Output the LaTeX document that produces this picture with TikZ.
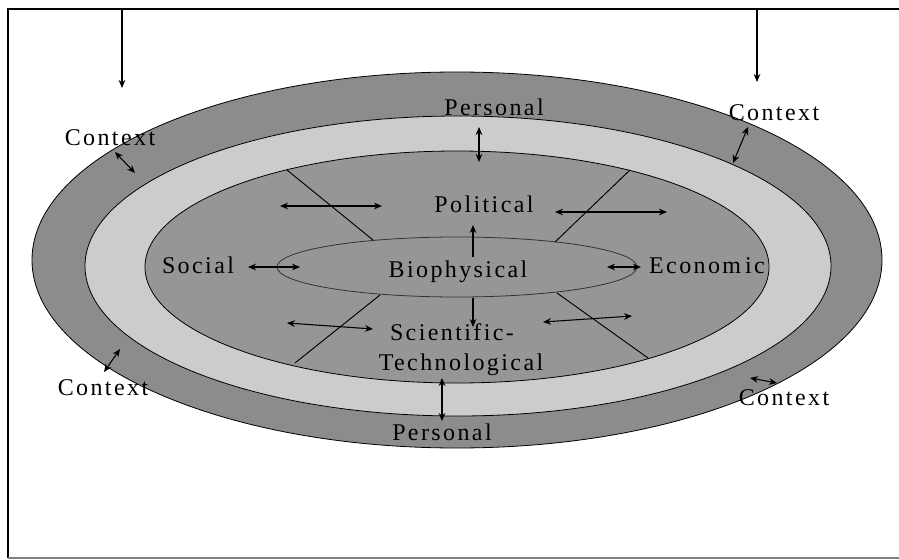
\documentclass[tikz,border=0pt]{standalone}
\usepackage{fontspec}
\setmainfont{Liberation Serif}
\newfontfamily\spcfont[LetterSpace=10]{Liberation Serif}
\usetikzlibrary{arrows.meta}
\definecolor{outerring}{gray}{0.55}
\definecolor{lightring}{gray}{0.80}
\definecolor{innerzone}{gray}{0.59}
\begin{document}
\begin{tikzpicture}[x=0.75pt,y=-0.75pt,
  lab/.style={font=\spcfont\fontsize{18}{21}\selectfont, inner sep=0pt, anchor=base},
  dbl/.style={line width=0.8pt, {Stealth[length=6pt,width=5pt]}-{Stealth[length=6pt,width=5pt]}},
  one/.style={line width=0.8pt, -{Stealth[length=6pt,width=5pt]}},
  divider/.style={line width=0.7pt},
  ring/.style={draw=black, line width=0.6pt}]
\useasboundingbox (0,0) rectangle (899,560);
% frame
\draw[line width=1.2pt] (899,9) -- (8,9) -- (8,558);
\draw[line width=0.8pt, gray] (8,558) -- (899,558);
% ellipses
\path[ring, fill=outerring] (457,260) ellipse [x radius=425, y radius=188];
\path[ring, fill=lightring] (458,266) ellipse [x radius=373, y radius=150];
\path[ring, fill=innerzone] (457,267) ellipse [x radius=312, y radius=116];
\path[ring, draw=black!80, fill=innerzone] (457,267) ellipse [x radius=180, y radius=30];
% dividers
\coordinate (d1a) at (287,170); \coordinate (d1b) at (373,240);
\coordinate (d2a) at (630,170); \coordinate (d2b) at (555,242);
\coordinate (d3a) at (295,363); \coordinate (d3b) at (380,295);
\coordinate (d4a) at (648,358); \coordinate (d4b) at (557,293);
\draw[divider] (d1a) -- (d1b);
\draw[divider] (d2a) -- (d2b);
\draw[divider] (d3a) -- (d3b);
\draw[divider] (d4a) -- (d4b);
% top arrows
\coordinate (t1a) at (122,9); \coordinate (t1b) at (122,88);
\coordinate (t2a) at (757,9); \coordinate (t2b) at (757,82);
\draw[one] (t1a) -- (t1b);
\draw[one] (t2a) -- (t2b);
% labels
\node[lab] (ctx1) at (110,145) {Context};
\node[lab] (ctx2) at (774,120) {Context};
\node[lab] (ctx3) at (103,395) {Context};
\node[lab] (ctx4) at (784,405) {Context};
\node[lab] (pers1) at (494,115) {Personal};
\node[lab] (pers2) at (442,440) {Personal};
\node[lab] (pol) at (484,212) {Political};
\node[lab] (bio) at (458,277) {Biophysical};
\node[lab] (sci) at (452,340) {Scientific-};
\node[lab] (tech) at (461,370) {Technological};
\node[lab] (soc) at (198,273) {Social};
\node[lab] (eco) at (707,273) {Econom\,ic};
% arrows
\coordinate (c1a) at (115,152); \coordinate (c1b) at (135,173);
\coordinate (c2a) at (748,127); \coordinate (c2b) at (733,163);
\coordinate (c3a) at (120,349); \coordinate (c3b) at (104,372);
\coordinate (c4a) at (750,378); \coordinate (c4b) at (777,383);
\draw[dbl] (c1a) -- (c1b);
\draw[dbl] (c2a) -- (c2b);
\draw[dbl] (c3a) -- (c3b);
\draw[dbl] (c4a) -- (c4b);
\coordinate (p1a) at (479,127); \coordinate (p1b) at (479,162);
\coordinate (p2a) at (442,378); \coordinate (p2b) at (442,421);
\draw[dbl] (p1a) -- (p1b);
\draw[dbl] (p2a) -- (p2b);
\coordinate (upa) at (473,257); \coordinate (upb) at (473,225);
\coordinate (dna) at (473,298); \coordinate (dnb) at (473,327);
\draw[one] (upa) -- (upb);
\draw[one] (dna) -- (dnb);
\coordinate (ula) at (280,206); \coordinate (ulb) at (382,206);
\coordinate (ura) at (555,212); \coordinate (urb) at (667,212);
\coordinate (lla) at (287,323); \coordinate (llb) at (373,329);
\coordinate (lra) at (543,322); \coordinate (lrb) at (632,316);
\draw[dbl] (ula) -- (ulb);
\draw[dbl] (ura) -- (urb);
\draw[dbl] (lla) -- (llb);
\draw[dbl] (lra) -- (lrb);
\coordinate (sa) at (248,267); \coordinate (sb) at (300,267);
\coordinate (ea) at (607,267); \coordinate (eb) at (641,267);
\draw[dbl] (sa) -- (sb);
\draw[dbl] (ea) -- (eb);
\end{tikzpicture}
\end{document}
